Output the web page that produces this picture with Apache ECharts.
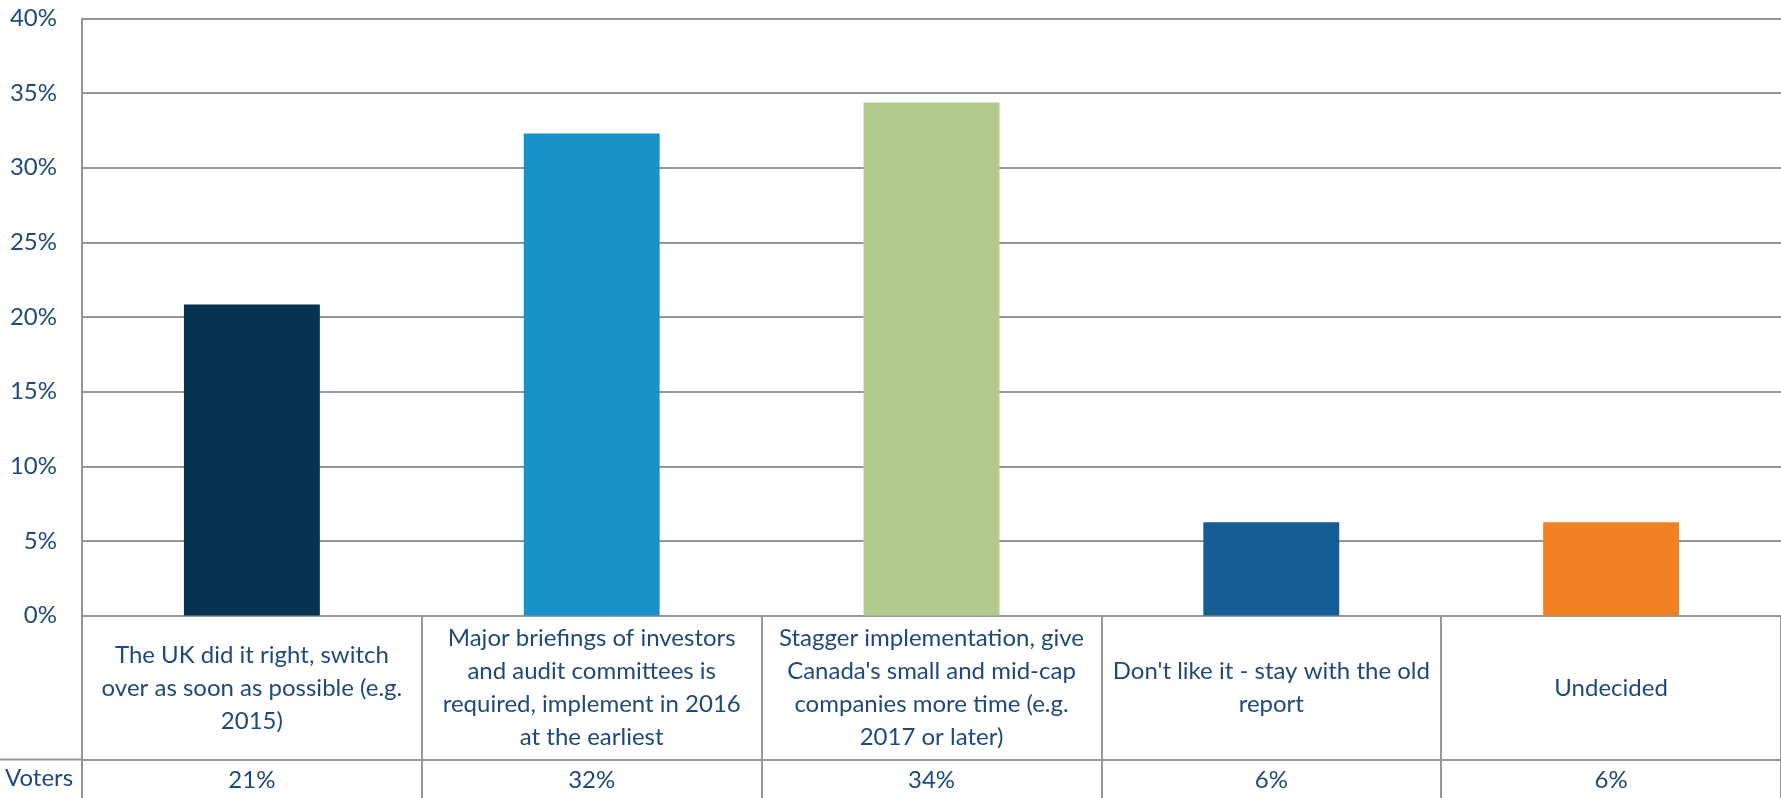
<!DOCTYPE html>
<html>
<head>
<meta charset="utf-8">
<title>Voters</title>
<script src="https://cdn.jsdelivr.net/npm/echarts@6/dist/echarts.min.js"></script>
<style>
  html, body { margin: 0; padding: 0; background: #ffffff; }
  #chart { width: 1781px; height: 798px; }
</style>
</head>
<body>
<div id="chart"></div>
<script>
// Poll options (label text keeps its printed line breaks)
const categories = [
  "The UK did it right, switch\nover as soon as possible (e.g.\n2015)",
  "Major briefings of investors\nand audit committees is\nrequired, implement in 2016\nat the earliest",
  "Stagger implementation, give\nCanada's small and mid-cap\ncompanies more time (e.g.\n2017 or later)",
  "Don't like it - stay with the old\nreport",
  "Undecided"
];
// Share of voters per option, in percent
const voters = [20.83, 32.29, 34.38, 6.25, 6.25];
const barColors = ["#073350", "#1A91C9", "#B2CB8D", "#165D96", "#F28123"];
const yTicks = { min: 0, max: 40, interval: 5 };

const TEXT = "#1F497D";
const LINE = "#969696";
const FONT = "Lato, 'Open Sans', sans-serif";

const GRID = { left: 82, right: -4, top: 18.5, bottom: 182.5 };
const LABEL_ROW = 144;   // height of the category-label row under the axis

const chart = echarts.init(document.getElementById('chart'));

chart.setOption({
  animation: false,
  backgroundColor: '#ffffff',
  textStyle: { fontFamily: FONT },
  grid: GRID,
  xAxis: [
    {
      type: 'category',
      data: categories,
      position: 'bottom',
      axisLine: { show: true, lineStyle: { color: LINE, width: 2 } },
      axisTick: { show: true, interval: 0, length: 190, lineStyle: { color: LINE, width: 2 } },
      axisLabel: {
        interval: 0,
        color: TEXT,
        fontFamily: FONT,
        fontSize: 24,
        lineHeight: 33,
        margin: 72.5,
        verticalAlign: 'middle',
        align: 'center'
      },
      splitLine: { show: false }
    },
    {
      type: 'category',
      data: categories,
      position: 'bottom',
      offset: LABEL_ROW,
      axisLine: { show: true, lineStyle: { color: LINE, width: 2 } },
      axisTick: { show: false },
      axisLabel: {
        interval: 0,
        color: TEXT,
        fontFamily: FONT,
        fontSize: 24,
        margin: 21,
        verticalAlign: 'middle',
        formatter: function (v, i) { return Math.round(voters[i]) + '%'; }
      }
    }
  ],
  yAxis: {
    type: 'value',
    min: yTicks.min,
    max: yTicks.max,
    interval: yTicks.interval,
    axisLine: { show: true, lineStyle: { color: LINE, width: 2 } },
    axisTick: { show: false },
    axisLabel: {
      color: TEXT,
      fontFamily: FONT,
      fontSize: 24,
      margin: 25,
      formatter: '{value}%'
    },
    splitLine: { show: true, lineStyle: { color: LINE, width: 2 } }
  },
  series: [
    {
      type: 'bar',
      xAxisIndex: 0,
      barWidth: '40%',
      data: voters.map(function (v, i) {
        return { value: v, itemStyle: { color: barColors[i] } };
      })
    }
  ],
  graphic: [
    {
      type: 'line',
      shape: { x1: 0, y1: 798 - GRID.bottom + LABEL_ROW, x2: GRID.left, y2: 798 - GRID.bottom + LABEL_ROW },
      style: { stroke: LINE, lineWidth: 2 }
    },
    {
      type: 'text',
      left: 5,
      top: 798 - GRID.bottom + LABEL_ROW + 21 - 14,
      style: { text: 'Voters', fill: TEXT, font: '24px ' + FONT }
    }
  ]
});
</script>
</body>
</html>
